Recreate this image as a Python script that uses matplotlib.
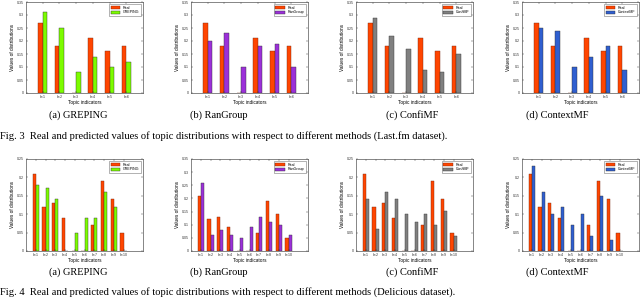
import matplotlib
matplotlib.use("Agg")
import matplotlib.pyplot as plt
import numpy as np

# ---- data ----
lastfm_topics = ["k=1", "k=2", "k=3", "k=4", "k=5", "k=6"]
lastfm_real = [0.27, 0.18, 0.0, 0.21, 0.16, 0.18]
lastfm_greping = [0.31, 0.25, 0.08, 0.14, 0.10, 0.12]
lastfm_rangroup = [0.20, 0.23, 0.10, 0.18, 0.19, 0.10]
lastfm_confimf = [0.29, 0.22, 0.17, 0.09, 0.08, 0.15]
lastfm_contextmf = [0.25, 0.24, 0.10, 0.14, 0.18, 0.09]

del_topics = ["k=1", "k=2", "k=3", "k=4", "k=5", "k=6", "k=7", "k=8", "k=9", "k=10"]
del_real = [0.21, 0.12, 0.13, 0.09, 0.0, 0.0, 0.07, 0.19, 0.14, 0.05]
del_greping = [0.18, 0.17, 0.14, 0.0, 0.05, 0.09, 0.09, 0.16, 0.12, 0.0]
del_rangroup = [0.26, 0.06, 0.08, 0.06, 0.05, 0.09, 0.13, 0.11, 0.10, 0.06]
del_confimf = [0.14, 0.06, 0.16, 0.14, 0.10, 0.08, 0.10, 0.07, 0.11, 0.04]
del_contextmf = [0.23, 0.16, 0.10, 0.12, 0.07, 0.10, 0.04, 0.15, 0.03, 0.0]

methods = ["GREPING", "RanGroup", "ConfiMF", "ContextMF"]
letters = ["(a)", "(b)", "(c)", "(d)"]
method_colors = ["#7CFC00", "#9B30D9", "#808080", "#2F5FD0"]
real_color = "#FF4500"

top_preds = [lastfm_greping, lastfm_rangroup, lastfm_confimf, lastfm_contextmf]
bot_preds = [del_greping, del_rangroup, del_confimf, del_contextmf]
top_ymax = [0.35, 0.35, 0.35, 0.35]
bot_ymax = [0.25, 0.35, 0.25, 0.25]

plt.rcParams['font.family'] = ['Liberation Sans', 'DejaVu Sans']

W, H = 640, 299
fig = plt.figure(figsize=(6.4, 2.99), dpi=100)

lefts = [26, 191, 356, 522]
axw = 117


def draw(ax, topics, real, pred, color, label, ymax, xmax, bw):
    x = np.arange(1, len(topics) + 1)
    ax.bar(x - bw / 2, real, bw, color=real_color, edgecolor="#7a2a10",
           linewidth=0.3, label="Real")
    ax.bar(x + bw / 2, pred, bw, color=color, edgecolor="#333333",
           linewidth=0.3, label=label)
    ax.set_xlim(0, xmax)
    ax.set_ylim(0, ymax)
    ax.set_xticks(x)
    ax.set_xticklabels(topics)
    yt = np.round(np.arange(0, ymax + 1e-9, 0.05), 2)
    ax.set_yticks(yt)
    ax.set_yticklabels(["0" if v == 0 else ("%g" % v) for v in yt])
    ax.tick_params(axis="both", which="both", direction="in", length=1.2,
                   width=0.3, labelsize=2.6, pad=1.2, top=True, right=True,
                   colors="#333333")
    for s in ax.spines.values():
        s.set_linewidth(0.5)
        s.set_color("#555555")
    ax.set_xlabel("Topic indicators", fontsize=3.4, labelpad=0.8)
    ax.set_ylabel("Values of distributions", fontsize=3.4, labelpad=1.5)
    leg = ax.legend(loc="upper right", fontsize=2.6, frameon=True,
                    fancybox=False, borderpad=0.4, handlelength=2.6,
                    handleheight=0.9, labelspacing=0.2, borderaxespad=0.6)
    leg.get_frame().set_linewidth(0.4)
    leg.get_frame().set_edgecolor("#555555")


# top row (Last.fm)
for i in range(4):
    ax = fig.add_axes([lefts[i] / W, (H - 93) / H, axw / W, 91 / H])
    draw(ax, lastfm_topics, lastfm_real, top_preds[i], method_colors[i],
         methods[i], top_ymax[i], 7, 0.27)

# bottom row (Delicious)
for i in range(4):
    ax = fig.add_axes([lefts[i] / W, (H - 251) / H, axw / W, 92 / H])
    draw(ax, del_topics, del_real, bot_preds[i], method_colors[i],
         methods[i], bot_ymax[i], 12, 0.33)

serif = ['Liberation Serif', 'DejaVu Serif']
cap_x = [78, 219, 412, 557]
for i in range(4):
    fig.text(cap_x[i] / W, 1 - 115 / H, f"{letters[i]} {methods[i]}",
             ha="center", va="center", fontsize=7.5, family=serif)
    fig.text(cap_x[i] / W, 1 - 272 / H, f"{letters[i]} {methods[i]}",
             ha="center", va="center", fontsize=7.5, family=serif)

fig.text(0.0, 1 - 136 / H,
         "Fig. 3  Real and predicted values of topic distributions with respect to different methods (Last.fm dataset).",
         ha="left", va="center", fontsize=7.6, family=serif)
fig.text(0.0, 1 - 292 / H,
         "Fig. 4  Real and predicted values of topic distributions with respect to different methods (Delicious dataset).",
         ha="left", va="center", fontsize=7.6, family=serif)

fig.savefig("out.png", dpi=100, facecolor="white")
